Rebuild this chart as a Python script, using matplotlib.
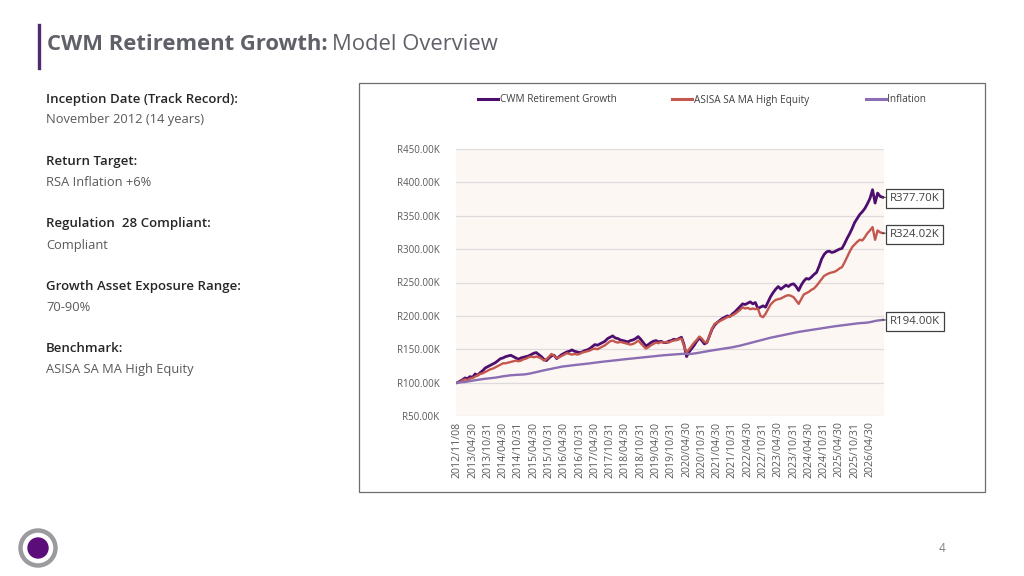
import numpy as np
import pandas as pd
import matplotlib
matplotlib.use("Agg")
import matplotlib.pyplot as plt
from matplotlib.lines import Line2D
from matplotlib.patches import Rectangle, Circle

plt.rcParams['font.family'] = ['Open Sans', 'DejaVu Sans']

W, H = 1024, 576

# categories: inception date, then month ends
dates = ["2012/11/08"] + list(pd.date_range("2012-11-30", periods=167, freq="ME").strftime("%Y/%m/%d"))

cwm = [100, 102, 104,
       107, 106, 109, 108, 113, 111, 115, 118, 122, 124, 126, 128,
       130, 133, 136, 137, 139, 140, 141, 139, 137, 135, 137, 138,
       139, 140, 142, 144, 145, 142, 139, 135, 133, 137, 140, 141,
       136, 139, 142, 144, 146, 147, 149, 147, 146, 145, 146, 148,
       149, 151, 154, 157, 156, 158, 160, 162, 166, 168, 170, 167,
       166, 164, 163, 162, 161, 163, 164, 166, 169, 165, 160, 155,
       157, 160, 162, 163, 161, 162, 160, 160, 162, 163, 165, 164,
       166, 168, 157, 139, 146, 151, 156, 162, 167, 163, 158, 160,
       170, 180, 186, 190, 193, 196, 198, 200, 199, 203, 206, 210,
       214, 218, 217, 219, 221, 218, 220, 211, 213, 215, 213, 221,
       229, 235, 240, 244, 240, 243, 246, 244, 247, 248, 244, 238,
       246, 252, 256, 255, 258, 262, 265, 274, 285, 292, 296, 297,
       295, 296, 298, 300, 301, 308, 316, 323, 331, 340, 346, 352,
       356, 361, 368, 376, 389, 369, 384, 379, 377.70]

asisa = [100, 101, 103,
         105, 104, 106, 107, 109, 111, 113, 114, 116, 118, 120, 121,
         123, 125, 127, 129, 129, 130, 131, 132, 133, 132, 133, 135,
         136, 138, 139, 138, 139, 138, 136, 133, 135, 139, 143, 140,
         137, 138, 140, 142, 144, 143, 142, 143, 142, 143, 145, 146,
         147, 148, 150, 151, 150, 152, 154, 156, 159, 162, 163, 161,
         160, 161, 160, 159, 158, 157, 158, 160, 163, 159, 155, 151,
         153, 156, 158, 160, 159, 161, 160, 161, 160, 162, 163, 164,
         165, 166, 155, 145, 150, 155, 160, 164, 169, 166, 161, 160,
         170, 181, 188, 190, 192, 194, 196, 198, 199, 201, 203, 206,
         209, 213, 211, 212, 210, 211, 210, 211, 200, 198, 203, 210,
         217, 221, 224, 225, 226, 228, 230, 231, 230, 228, 223, 218,
         225, 232, 234, 236, 239, 241, 245, 250, 255, 260, 262, 264,
         265, 266, 268, 271, 273, 280, 288, 296, 303, 307, 311, 314,
         313, 318, 324, 328, 333, 314, 328, 325, 324.02]

inflation = [100, 100.3, 100.6,
             101.0, 101.6, 102.3, 103.0, 103.6, 104.2, 104.8, 105.3, 105.8, 106.2, 106.6, 107.0,
             107.5, 108.1, 108.8, 109.5, 110.0, 110.5, 111.0, 111.3, 111.6, 111.8, 112.0, 112.2,
             112.6, 113.3, 114.0, 114.9, 115.8, 116.7, 117.6, 118.4, 119.2, 120.0, 120.8, 121.6,
             122.5, 123.3, 123.9, 124.4, 124.9, 125.4, 125.9, 126.3, 126.7, 127.1, 127.5, 127.9,
             128.4, 128.9, 129.4, 129.9, 130.4, 130.9, 131.3, 131.7, 132.1, 132.5, 132.9, 133.3,
             133.8, 134.3, 134.7, 135.1, 135.5, 135.9, 136.3, 136.7, 137.1, 137.5, 137.9, 138.3,
             138.7, 139.1, 139.5, 139.9, 140.3, 140.7, 141.0, 141.3, 141.6, 141.9, 142.2, 142.5,
             142.8, 143.0, 143.2, 143.0, 142.8, 143.1, 143.6, 144.2, 144.9, 145.6, 146.3, 147.0,
             147.6, 148.2, 148.8, 149.4, 150.0, 150.6, 151.2, 151.8, 152.4, 153.0, 153.8, 154.6,
             155.4, 156.4, 157.4, 158.4, 159.4, 160.4, 161.4, 162.4, 163.4, 164.4, 165.4, 166.4,
             167.3, 168.1, 168.9, 169.7, 170.5, 171.3, 172.1, 172.9, 173.7, 174.5, 175.3, 176.0,
             176.6, 177.2, 177.8, 178.4, 179.0, 179.6, 180.2, 180.8, 181.4, 182.0, 182.6, 183.2,
             183.8, 184.3, 184.8, 185.3, 185.8, 186.3, 186.8, 187.3, 187.8, 188.3, 188.7, 189.1,
             189.3, 189.6, 190.0, 190.6, 191.4, 192.4, 193.0, 193.5, 194.00]

series_names = ["CWM Retirement Growth", "ASISA SA MA High Equity", "Inflation"]
series_colors = ["#4E0E6E", "#C4574E", "#8A6DB2"]
y_ticks = [50, 100, 150, 200, 250, 300, 350, 400, 450]

info_labels = ["Inception Date (Track Record):", "Return Target:", "Regulation  28 Compliant:",
               "Growth Asset Exposure Range:", "Benchmark:"]
info_values = ["November 2012 (14 years)", "RSA Inflation +6%", "Compliant", "70-90%",
               "ASISA SA MA High Equity"]


def fx(px):
    return px / W


def fy(py):
    return 1 - py / H


fig = plt.figure(figsize=(W / 100, H / 100), dpi=100)
fig.patch.set_facecolor("white")

# title
fig.add_artist(Line2D([fx(38.5), fx(38.5)], [fy(25), fy(68)], color="#4E2A6E", lw=2.4))
t1 = fig.text(fx(47), fy(45), "CWM Retirement Growth:", fontsize=15.8, fontweight="bold",
              color="#5F6068", va="center", ha="left")
fig.canvas.draw()
bb = t1.get_window_extent()
fig.text(bb.x1 / W + fx(4), fy(45), "Model Overview", fontsize=15.8, color="#5F6068",
         va="center", ha="left")

# left info block
y0 = 99
for i, (lab, val) in enumerate(zip(info_labels, info_values)):
    yy = y0 + i * 62.5
    fig.text(fx(46), fy(yy), lab, fontsize=9.5, fontweight="semibold", color="#262626", va="center")
    fig.text(fx(46), fy(yy + 21), val, fontsize=9.3, color="#595959", va="center")

# chart frame
fig.add_artist(Rectangle((fx(359), fy(492)), fx(626), 409 / H, transform=fig.transFigure,
                         fill=False, edgecolor="#6E6E6E", lw=0.9))

ax = fig.add_axes([fx(456), fy(416), fx(428), 267 / H])
ax.set_facecolor("#FDF7F4")
for s in ax.spines.values():
    s.set_visible(False)

x = np.arange(len(dates))
for vals, name, col, lw in zip([cwm, asisa, inflation], series_names, series_colors, [2.0, 1.7, 1.7]):
    ax.plot(x, vals, color=col, lw=lw, label=name, solid_joinstyle="round", zorder=3)

ax.set_xlim(-0.5, len(dates) - 0.5)
ax.set_ylim(50, 450)
ax.set_yticks(y_ticks)
ax.set_yticklabels([f"R{v:.2f}K" for v in y_ticks])
for v in y_ticks:
    ax.axhline(v, color="#DDDBDB", lw=0.9, zorder=1)
ax.set_xticks(x[::6])
ax.set_xticklabels(dates[::6], rotation=90)
ax.tick_params(length=0, labelsize=7, labelcolor="#595959")
ax.tick_params(axis="x", labelsize=7.6, pad=4)
ax.tick_params(axis="y", pad=12)

# end labels
for vals in [cwm, asisa, inflation]:
    ax.annotate(f"R{vals[-1]:.2f}K", xy=(x[-1], vals[-1]), xytext=(5, -1), textcoords="offset points",
                ha="left", va="center", fontsize=8.2, color="#404040",
                bbox=dict(boxstyle="square,pad=0.35", fc="white", ec="#404040", lw=0.9),
                arrowprops=dict(arrowstyle="-", color="#404040", lw=0.9), annotation_clip=False)

leg = ax.legend(loc="center", bbox_to_anchor=((702 - 456) / 428, 1 + (149 - 100) / 267), ncol=3,
                frameon=False, fontsize=7.2, handlelength=2.0, handletextpad=0.2, columnspacing=5.6)
for t in leg.get_texts():
    t.set_color("#404040")
for h in leg.legend_handles:
    h.set_linewidth(2.2)

# page number and logo
fig.text(fx(942), fy(549), "4", fontsize=8.5, color="#7F7F7F", ha="center", va="center")
logo = fig.add_axes([0, 0, 1, 1], facecolor="none")
logo.set_xlim(0, W)
logo.set_ylim(H, 0)
logo.axis("off")
logo.add_patch(Circle((38, 548), 17.5, fill=False, ec="#9B9B9F", lw=3.2))
logo.add_patch(Circle((38, 548), 10, color="#5B0E7A"))

fig.savefig("out.png", dpi=100)
